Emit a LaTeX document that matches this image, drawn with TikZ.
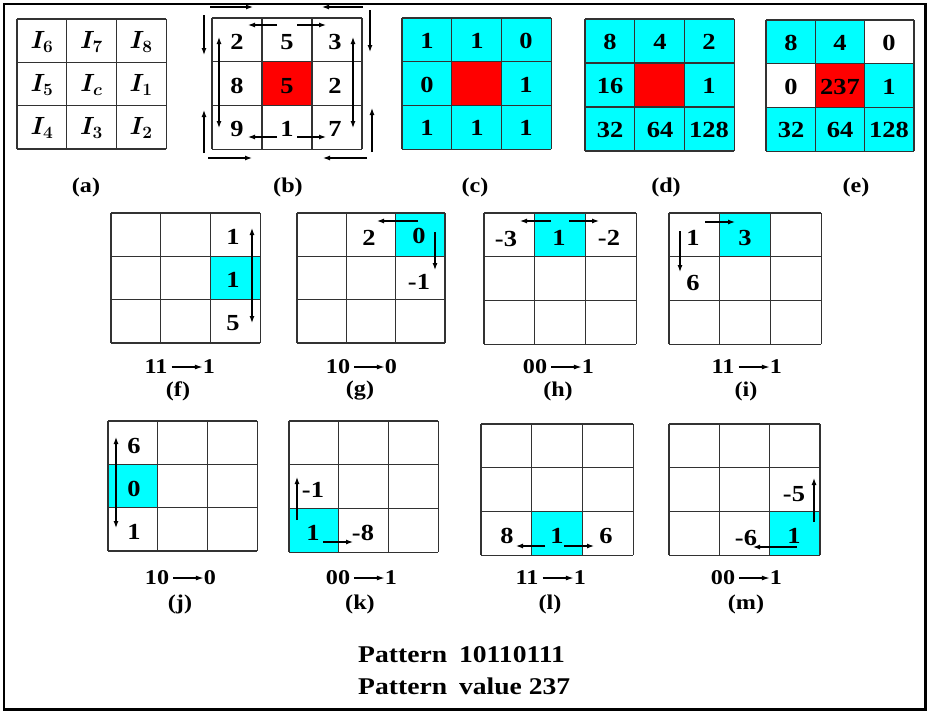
\documentclass[tikz,border=0pt]{standalone}
\usepackage{fontspec}
\setmainfont[FakeStretch=1.15]{Liberation Serif}
\usepackage{bm}
\usetikzlibrary{arrows.meta}
\definecolor{cy}{RGB}{0,255,255}
\definecolor{rd}{RGB}{255,0,0}
\definecolor{gl}{RGB}{50,50,50}
\newcommand{\mygrid}[4]{%
  \foreach \i in {0,1,2,3}{%
    \draw[gridl] ({#1+\i*#3},#2) -- ({#1+\i*#3},{#2+3*#4});
    \draw[gridl] (#1,{#2+\i*#4}) -- ({#1+3*#3},{#2+\i*#4});
  }}
\newcommand{\mycell}[7]{\fill[#7] ({#1+#6*#3},{#2+#5*#4}) rectangle ++(#3,#4);}
\newcommand{\mycap}[5]{%
  \node[capn] (#1l) at ({#2-23},#3) {#4};
  \node[capn] (#1r) at ({#2+30},#3) {#5};
  \draw[carr,shorten <=4pt] (#1l.east) -- (#1r.west);}
\begin{document}
\begin{tikzpicture}[x=1pt,y=-1pt,
  num/.style={inner sep=0pt,font=\bfseries\fontsize{23}{27}\selectfont},
  capn/.style={inner sep=0pt,font=\bfseries\fontsize{21}{25}\selectfont},
  lab/.style={inner sep=0pt,font=\bfseries\fontsize{21}{25}\selectfont},
  mth/.style={inner sep=0pt,font=\fontsize{25}{29}\selectfont},
  gridl/.style={draw=gl,line width=1.2pt},
  arr/.style={-{Latex[length=7pt,width=5pt]},line width=1.2pt},
  carr/.style={-{Latex[length=8pt,width=5pt]},line width=1.2pt},
  darr/.style={{Latex[length=7pt,width=5pt]}-{Latex[length=7pt,width=5pt]},line width=1.2pt}]
\useasboundingbox (0,0) rectangle (928,712);
\fill[white] (0,0) rectangle (928,712);
\draw[line width=2.5pt] (4,4) rectangle (925.5,709.5);

% (a)
\mygrid{17}{19}{49.7}{43.3}
\node[mth] (a1) at (42,42) {$\bm{I_6}$};
\node[mth] (a2) at (91.5,42) {$\bm{I_7}$};
\node[mth] (a3) at (141,42) {$\bm{I_8}$};
\node[mth] (a4) at (42,85) {$\bm{I_5}$};
\node[mth] (a5) at (91.5,85) {$\bm{I_c}$};
\node[mth] (a6) at (141,85) {$\bm{I_1}$};
\node[mth] (a7) at (42,128) {$\bm{I_4}$};
\node[mth] (a8) at (91.5,128) {$\bm{I_3}$};
\node[mth] (a9) at (141,128) {$\bm{I_2}$};
\node[lab] (la) at (86,187) {(a)};

% (b)
\mycell{212}{18}{50}{43.7}{1}{1}{rd}
\mygrid{212}{18}{50}{43.7}
\node[num] (b1) at (237,42) {2};
\node[num] (b2) at (287,42) {5};
\node[num] (b3) at (335,42) {3};
\node[num] (b4) at (237,86) {8};
\node[num] (b5) at (287,86) {5};
\node[num] (b6) at (335,86) {2};
\node[num] (b7) at (237,128.5) {9};
\node[num] (b8) at (287,128.5) {1};
\node[num] (b9) at (335,128.5) {7};
\draw[arr] (210,7) -- (253,7);
\draw[arr] (363,7) -- (322,7);
\draw[arr] (204,15) -- (204,55);
\draw[arr] (370,10) -- (370,52);
\draw[arr] (204,153) -- (204,110);
\draw[arr] (372,152) -- (372,108);
\draw[arr] (208,158) -- (252,158);
\draw[arr] (367,158) -- (323,158);
\draw[arr] (277,25) -- (248,25);
\draw[arr] (297,25) -- (326,25);
\draw[arr] (277,137) -- (248,137);
\draw[arr] (297,137) -- (326,137);
\draw[darr] (219,37) -- (219,128);
\draw[darr] (353,37) -- (353,128);
\node[lab] (lb) at (288,187) {(b)};

% (c)
\fill[cy] (402,18) rectangle (551,149);
\mycell{402}{18}{49.7}{43.7}{1}{1}{rd}
\mygrid{402}{18}{49.7}{43.7}
\node[num] (c1) at (427,41) {1};
\node[num] (c2) at (477,41) {1};
\node[num] (c3) at (526,41) {0};
\node[num] (c4) at (427,85) {0};
\node[num] (c6) at (526,85) {1};
\node[num] (c7) at (427,128) {1};
\node[num] (c8) at (477,128) {1};
\node[num] (c9) at (526,128) {1};
\node[lab] (lc) at (475,187) {(c)};

% (d)
\fill[cy] (585,19) rectangle (734,151);
\mycell{585}{19}{49.7}{44}{1}{1}{rd}
\mygrid{585}{19}{49.7}{44}
\node[num] (d1) at (610,42) {8};
\node[num] (d2) at (660,42) {4};
\node[num] (d3) at (709,42) {2};
\node[num] (d4) at (610,86) {16};
\node[num] (d6) at (709,86) {1};
\node[num] (d7) at (610,130) {32};
\node[num] (d8) at (660,130) {64};
\node[num] (d9) at (709,130) {128};
\node[lab] (ld) at (666,187) {(d)};

% (e)
\fill[cy] (766,20) rectangle (914,151);
\mycell{766}{20}{49.3}{43.7}{0}{2}{white}
\mycell{766}{20}{49.3}{43.7}{1}{0}{white}
\mycell{766}{20}{49.3}{43.7}{1}{1}{rd}
\mygrid{766}{20}{49.3}{43.7}
\node[num] (e1) at (791,43) {8};
\node[num] (e2) at (840,43) {4};
\node[num] (e3) at (889,43) {0};
\node[num] (e4) at (791,86.5) {0};
\node[num] (e5) at (840,86.5) {237};
\node[num] (e6) at (889,86.5) {1};
\node[num] (e7) at (791,130) {32};
\node[num] (e8) at (840,130) {64};
\node[num] (e9) at (889,130) {128};
\node[lab] (le) at (856,187) {(e)};

% (f)
\mycell{111}{213}{49.7}{43.3}{1}{2}{cy}
\mygrid{111}{213}{49.7}{43.3}
\node[num] (f1) at (233,237) {1};
\node[num] (f2) at (233,280) {1};
\node[num] (f3) at (233,323) {5};
\draw[darr] (252,228) -- (252,323);
\mycap{fc}{179}{367}{11}{1}
\node[lab] (lf) at (178,391) {(f)};

% (g)
\mycell{297}{213}{49.3}{43.3}{0}{2}{cy}
\mygrid{297}{213}{49.3}{43.3}
\node[num] (g1) at (369,238) {2};
\node[num] (g2) at (419,236) {0};
\node[num] (g3) at (419,282) {-1};
\draw[arr] (418,221) -- (377,221);
\draw[arr] (435,232) -- (435,270);
\mycap{gc}{361}{367}{10}{0}
\node[lab] (lg) at (360,391) {(g)};

% (h)
\mycell{484}{213}{50.7}{43.7}{0}{1}{cy}
\mygrid{484}{213}{50.7}{43.7}
\node[num] (h1) at (506,239) {-3};
\node[num] (h2) at (559,238) {1};
\node[num] (h3) at (609,238) {-2};
\draw[arr] (551,221) -- (520,221);
\draw[arr] (569,221) -- (599,221);
\mycap{hc}{558}{367}{00}{1}
\node[lab] (lh) at (558,391) {(h)};

% (i)
\mycell{669}{213}{50.7}{43.7}{0}{1}{cy}
\mygrid{669}{213}{50.7}{43.7}
\node[num] (i1) at (693,238) {1};
\node[num] (i2) at (745,238) {3};
\node[num] (i3) at (693,283) {6};
\draw[arr] (705,222) -- (735,222);
\draw[arr] (680,231) -- (680,272);
\mycap{ic}{746}{367}{11}{1}
\node[lab] (li) at (746,391) {(i)};

% (j)
\mycell{108}{421}{49.7}{43.3}{1}{0}{cy}
\mygrid{108}{421}{49.7}{43.3}
\node[num] (j1) at (134,446) {6};
\node[num] (j2) at (134,489) {0};
\node[num] (j3) at (134,532) {1};
\draw[darr] (116,437) -- (116,528);
\mycap{jc}{180}{578}{10}{0}
\node[lab] (lj) at (180,604) {(j)};

% (k)
\mycell{289}{421}{49.7}{43.7}{2}{0}{cy}
\mygrid{289}{421}{49.7}{43.7}
\node[num] (k1) at (313,490) {-1};
\node[num] (k2) at (313,533) {1};
\node[num] (k3) at (363,533) {-8};
\draw[arr] (297,520) -- (297,477);
\draw[arr] (323,542) -- (353,542);
\mycap{kc}{361}{578}{00}{1}
\node[lab] (lk) at (360,604) {(k)};

% (l)
\mycell{481}{424}{50.7}{43.7}{2}{1}{cy}
\mygrid{481}{424}{50.7}{43.7}
\node[num] (l1) at (507,536) {8};
\node[num] (l2) at (557,536) {1};
\node[num] (l3) at (606,536) {6};
\draw[arr] (545,546) -- (516,546);
\draw[arr] (564,546) -- (594,546);
\mycap{lc}{550}{578}{11}{1}
\node[lab] (ll) at (550,604) {(l)};

% (m)
\mycell{669}{424}{50.3}{43.7}{2}{2}{cy}
\mygrid{669}{424}{50.3}{43.7}
\node[num] (m1) at (746,538) {-6};
\node[num] (m2) at (794,536) {1};
\node[num] (m3) at (794,494) {-5};
\draw[arr] (814,522) -- (814,478);
\draw[arr] (797,547) -- (753,547);
\mycap{mc}{746}{578}{00}{1}
\node[lab] (lm) at (746,604) {(m)};

% pattern text
\node[inner sep=0pt,anchor=west,font=\bfseries\fontsize{24}{29}\selectfont] (p1) at (358,655) {Pattern\hspace{12pt}10110111};
\node[inner sep=0pt,anchor=west,font=\bfseries\fontsize{24}{29}\selectfont] (p2) at (358,686) {Pattern\hspace{12pt}value 237};
\end{tikzpicture}
\end{document}
